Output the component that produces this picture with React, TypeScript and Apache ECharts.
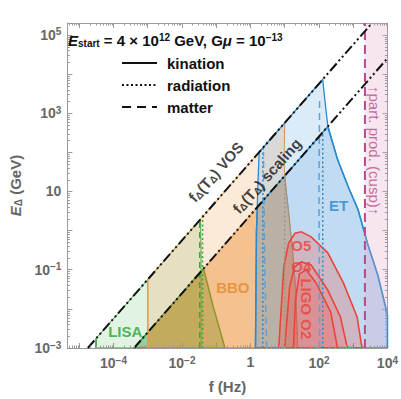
import React, { useEffect, useRef } from "react";
import * as echarts from "echarts";

const FONT = '"Liberation Sans", Arial, Helvetica, sans-serif';

// axis ranges
const X_MIN = 4.5e-6;
const X_MAX = 1e4;
const Y_MIN = 1e-3;
const Y_MAX = 2e5;

// f_Δ(T_Δ) lines
const vosLine = [[1.78e-5, 1e-3], [3560, 2e5]];
const scalingLine = [[4e-4, 1e-3], [1e4, 2.5e4]];

// detector regions [f (Hz), E_Δ (GeV)]
const lisaOuter = [[3.1e-5, 1e-3], [3.1e-5, 1.74e-3], [0.035, 1.97], [0.036, 0.3], [0.036, 1e-3]];
const lisaInner = [[4e-4, 1e-3], [0.0427, 0.107], [0.082, 0.0112], [0.18, 1e-3]];
const bboOuter = [[1e-3, 1e-3], [1e-3, 0.0562], [10, 562], [9.6, 60], [10, 25], [13, 3], [17, 0.3], [21, 0.03], [24, 1e-3]];
const bboInner = [[1e-3, 1e-3], [1e-3, 2.5e-3], [10, 25], [13, 3], [17, 0.3], [21, 0.03], [24, 1e-3]];
const etOuter = [[1.4, 1e-3], [1.5, 1], [1.7, 30], [1.8, 101], [129, 7250], [148, 2200], [180, 500], [350, 65], [720, 13], [1390, 3.4], [2700, 0.43], [5200, 0.074], [9300, 0.0093], [1e4, 0.007], [1e4, 1e-3]];
const etInner = [[1.4, 1e-3], [1.5, 1], [1.6, 4], [180, 450], [350, 65], [720, 13], [1390, 3.4], [2700, 0.43], [5200, 0.074], [9300, 0.0093], [1e4, 0.007], [1e4, 1e-3]];
const ligoO5 = [[6.7, 1e-3], [9.4, 0.117], [13, 0.48], [20, 0.85], [30.6, 0.93], [59, 0.69], [181, 0.27], [518, 0.046], [1300, 6.2e-3], [1810, 1e-3]];
const ligoO4 = [[10, 1e-3], [13.9, 0.036], [19.3, 0.117], [30.6, 0.158], [59, 0.132], [181, 0.03], [425, 6.2e-3], [674, 1e-3]];
const ligoO2 = [[18, 1e-3], [20.6, 0.017], [26.8, 0.078], [42.6, 0.099], [82, 0.046], [220, 8.3e-3], [349, 1e-3]];
const cuspRegion = [[2200, 1e-3], [2200, 2e5], [1e4, 2e5], [1e4, 1e-3]];

// boundary lines
const lisaLeft = [[3.1e-5, 1e-3], [3.1e-5, 1.74e-3]];
const lisaDotted = [[0.04, 1e-3], [0.04, 2.25]];
const lisaDashed = [[0.033, 1e-3], [0.033, 1.85]];
const bboLeft = [[1e-3, 1e-3], [1e-3, 0.0562]];
const bboDotted = [[10, 1e-3], [10, 25]];
const etDottedL = [[2.3, 1e-3], [2.3, 130]];
const etDottedR = [[129, 1e-3], [129, 320]];
const etDashedL = [[3.0, 1e-3], [2.6, 0.1], [2.4, 100]];
const etDashedR = [[105, 1e-3], [100, 10], [105, 2500]];
const cuspLine = [[2200, 1e-3], [2200, 2e5]];

// text labels in data coordinates
const labels = [
  { value: [2.2e-4, 2.7e-3], text: "LISA", color: "#25a234", rotate: 0, size: 15 },
  { value: [0.306, 0.036], text: "BBO", color: "#e0892c", rotate: 0, size: 15 },
  { value: [373, 4.3], text: "ET", color: "#2a86cc", rotate: 0, size: 15 },
  { value: [30.6, 0.41], text: "O5", color: "#e8453c", rotate: 0, size: 15 },
  { value: [30.6, 0.118], text: "O4", color: "#e8453c", rotate: 0, size: 15 },
  { value: [42.6, 0.01], text: "LIGO O2", color: "#e8453c", rotate: -90, size: 15 },
  { value: [0.098, 31.6], text: "f{sub|Δ}(T{sub|Δ}) VOS", color: "#111", rotate: 48.3, size: 15 },
  { value: [3.0, 25.0], text: "f{sub|Δ}(T{sub|Δ}) scaling", color: "#111", rotate: 48.3, size: 15 },
  { value: [4250, 110], text: "↑part. prod. (cusp)↑", color: "#b84a85", rotate: -90, size: 15, weight: "normal" },
];

const legendItems = [
  { name: "kination", dash: null as number[] | null },
  { name: "radiation", dash: [2, 2.5] },
  { name: "matter", dash: [9, 6] },
];

function polySeries(pts: number[][], fill: string, stroke: string, lw: number, dash?: number[]) {
  return {
    type: "custom",
    silent: true,
    clip: true,
    data: [pts[0]],
    renderItem: (params: any, api: any) => {
      if (params.dataIndex !== 0) return null;
      const points = pts.map((p) => api.coord(p));
      return {
        type: "polygon",
        shape: { points },
        style: { fill, stroke, lineWidth: lw, lineDash: dash || null },
      };
    },
  };
}

function lineSeries(pts: number[][], color: string, width: number, type: any) {
  return {
    type: "line",
    silent: true,
    symbol: "none",
    data: pts,
    lineStyle: { color, width, type },
    z: 5,
  };
}

function supLabel(n: number) {
  if (n === 0) return "1";
  if (n === 1) return "10";
  return "10{sup|" + (n < 0 ? "−" : "") + Math.abs(n) + "}";
}

function xFormatter(v: number) {
  const l = Math.log10(v);
  const n = Math.round(l);
  if (Math.abs(l - n) > 1e-6 || Math.abs(n % 2) === 1) return "";
  return supLabel(n);
}

function yFormatter(v: number) {
  const l = Math.log10(v);
  const n = Math.round(l);
  if (Math.abs(l - n) > 1e-6 || Math.abs(n % 2) !== 1) return "";
  return supLabel(n);
}

const tickLabelStyle = {
  color: "#666",
  fontWeight: "bold",
  fontSize: 14,
  fontFamily: FONT,
  rich: {
    sup: { fontSize: 10, fontWeight: "bold", color: "#666", fontFamily: FONT, verticalAlign: "top", padding: [0, 0, 6, 0] },
  },
};

const frameAxisLine = { show: true, lineStyle: { color: "#9a9a9a", width: 1 } };
const frameTick = { show: true, inside: true, length: 5, lineStyle: { color: "#9a9a9a", width: 1 } };

function minorTickSeries() {
  return {
    type: "custom",
    silent: true,
    data: [[1, 1]],
    z: 10,
    renderItem: (params: any, api: any) => {
      if (params.dataIndex !== 0) return null;
      const cs = params.coordSys;
      const children: any[] = [];
      const st = { stroke: "#9a9a9a", lineWidth: 1 };
      for (let n = -6; n <= 5; n++) {
        for (let k = 2; k <= 9; k++) {
          const v = k * Math.pow(10, n);
          if (v > X_MIN && v < X_MAX) {
            const px = Math.round(api.coord([v, Y_MIN])[0]) + 0.5;
            children.push({ type: "line", shape: { x1: px, y1: cs.y + cs.height, x2: px, y2: cs.y + cs.height - 2.5 }, style: st });
            children.push({ type: "line", shape: { x1: px, y1: cs.y, x2: px, y2: cs.y + 2.5 }, style: st });
          }
          if (v > Y_MIN && v < Y_MAX) {
            const py = Math.round(api.coord([1, v])[1]) + 0.5;
            children.push({ type: "line", shape: { x1: cs.x, y1: py, x2: cs.x + 2.5, y2: py }, style: st });
            children.push({ type: "line", shape: { x1: cs.x + cs.width, y1: py, x2: cs.x + cs.width - 2.5, y2: py }, style: st });
          }
        }
      }
      return { type: "group", children };
    },
  };
}

const subRich = {
  sub: { fontSize: 10, fontWeight: "bold", fontFamily: FONT, verticalAlign: "bottom", padding: [6, 0, 0, 0] },
};

export default function App() {
  const ref = useRef<HTMLDivElement>(null);
  useEffect(() => {
    if (!ref.current) return;
    const chart = echarts.init(ref.current, null, { renderer: "svg" });
    const blackDashDot = [10, 3, 2, 3, 2, 3];
    const option: any = {
      animation: false,
      backgroundColor: "#fff",
      grid: { left: 61, right: 13, top: 23, bottom: 51, containLabel: false },
      xAxis: [
        {
          type: "log",
          min: X_MIN,
          max: X_MAX,
          name: "f (Hz)",
          nameLocation: "middle",
          nameGap: 31,
          nameTextStyle: { color: "#666", fontWeight: "bold", fontSize: 15, fontFamily: FONT },
          axisLine: frameAxisLine,
          axisTick: frameTick,
          splitLine: { show: false },
          axisLabel: { ...tickLabelStyle, formatter: xFormatter, margin: 7, showMinLabel: false, hideOverlap: false },
        },
        {
          type: "log",
          min: X_MIN,
          max: X_MAX,
          position: "top",
          axisLine: frameAxisLine,
          axisTick: frameTick,
          splitLine: { show: false },
          axisLabel: { show: false },
        },
      ],
      yAxis: [
        {
          type: "log",
          min: Y_MIN,
          max: Y_MAX,
          name: "{i|E}{sub|Δ} (GeV)",
          nameLocation: "middle",
          nameGap: 40,
          nameTextStyle: {
            color: "#666",
            fontWeight: "bold",
            fontSize: 15,
            fontFamily: FONT,
            rich: {
              i: { fontStyle: "italic", fontWeight: "bold", fontSize: 15, fontFamily: FONT, color: "#666" },
              sub: { fontSize: 10, fontWeight: "bold", fontFamily: FONT, color: "#666", verticalAlign: "bottom", padding: [6, 0, 0, 0] },
            },
          },
          axisLine: frameAxisLine,
          axisTick: frameTick,
          splitLine: { show: false },
          axisLabel: { ...tickLabelStyle, formatter: yFormatter, margin: 6, hideOverlap: false },
        },
        {
          type: "log",
          min: Y_MIN,
          max: Y_MAX,
          position: "right",
          axisLine: frameAxisLine,
          axisTick: frameTick,
          splitLine: { show: false },
          axisLabel: { show: false },
        },
      ],
      series: [
        polySeries(lisaOuter, "rgba(70,180,80,0.16)", "#3aa845", 1),
        polySeries(lisaInner, "rgba(40,160,50,0.42)", "#20a030", 1.5),
        polySeries(bboOuter, "rgba(240,150,60,0.2)", "#e8953a", 1),
        polySeries(bboInner, "rgba(235,135,40,0.42)", "rgba(200,140,80,0.8)", 1),
        polySeries(etOuter, "rgba(80,155,220,0.2)", "#2a8bd0", 1.3),
        polySeries(etInner, "rgba(60,140,215,0.17)", "#2a8bd0", 1.5),
        polySeries(ligoO5, "rgba(240,80,70,0.26)", "#e8453c", 1.6),
        polySeries(ligoO4, "rgba(240,80,70,0.2)", "#e8453c", 1.6),
        polySeries(ligoO2, "rgba(240,80,70,0.2)", "#e8453c", 1.6),
        polySeries(cuspRegion, "rgba(225,160,200,0.28)", "none", 0),
        lineSeries(lisaLeft, "#3aa845", 1.5, "solid"),
        lineSeries(lisaDotted, "#3aa845", 1.5, [2, 2.5]),
        lineSeries(lisaDashed, "#3aa845", 1.5, [6, 4]),
        lineSeries(bboLeft, "#d9a060", 1.5, "solid"),
        lineSeries(bboDotted, "#a09480", 1.5, [2, 2.5]),
        lineSeries(etDottedL, "#2a8bd0", 1.5, [2, 2.5]),
        lineSeries(etDottedR, "#2a8bd0", 1.5, [2, 2.5]),
        lineSeries(etDashedL, "#5aa2dc", 1.5, [7, 5]),
        lineSeries(etDashedR, "#5aa2dc", 1.5, [7, 5]),
        lineSeries(cuspLine, "#b84a85", 2, [9, 5]),
        lineSeries(vosLine, "#111", 2, blackDashDot),
        lineSeries(scalingLine, "#111", 2, blackDashDot),
        minorTickSeries(),
        {
          type: "scatter",
          silent: true,
          symbolSize: 1,
          itemStyle: { color: "rgba(0,0,0,0)" },
          z: 20,
          data: labels.map((l) => ({
            value: l.value,
            label: {
              show: true,
              position: "inside",
              formatter: l.text,
              rotate: l.rotate,
              color: l.color,
              fontSize: l.size,
              fontWeight: (l as any).weight || "bold",
              fontFamily: FONT,
              align: "center",
              verticalAlign: "middle",
              rich: {
                sub: { ...subRich.sub, color: l.color },
              },
            },
          })),
        },
      ],
      graphic: [
        {
          type: "text",
          x: 68,
          y: 40,
          style: {
            text: "{i|E}{sub|start} = 4 × 10{sup|12} GeV, G{i|μ} = 10{sup|−13}",
            fill: "#111",
            fontSize: 15,
            fontWeight: "bold",
            fontFamily: FONT,
            verticalAlign: "middle",
            align: "left",
            rich: {
              i: { fontStyle: "italic", fontWeight: "bold", fontSize: 15, fontFamily: FONT, fill: "#111" },
              sub: { fontSize: 10, fontWeight: "bold", fontFamily: FONT, fill: "#111", verticalAlign: "bottom", padding: [6, 0, 0, 0] },
              sup: { fontSize: 10, fontWeight: "bold", fontFamily: FONT, fill: "#111", verticalAlign: "top", padding: [0, 0, 6, 0] },
            },
          },
          z: 100,
        },
        ...legendItems.flatMap((it, i) => {
          const y = 63 + i * 22;
          return [
            {
              type: "line",
              shape: { x1: 122, y1: y, x2: 157, y2: y },
              style: { stroke: "#111", lineWidth: 2, lineDash: it.dash },
              z: 100,
            },
            {
              type: "text",
              x: 167,
              y,
              style: {
                text: it.name,
                fill: "#111",
                fontSize: 15,
                fontWeight: "bold",
                fontFamily: FONT,
                verticalAlign: "middle",
                align: "left",
              },
              z: 100,
            },
          ];
        }),
      ],
    };
    chart.setOption(option);
    return () => chart.dispose();
  }, []);
  return <div ref={ref} style={{ width: 401, height: 399, position: "absolute", left: 0, top: 0 }} />;
}
